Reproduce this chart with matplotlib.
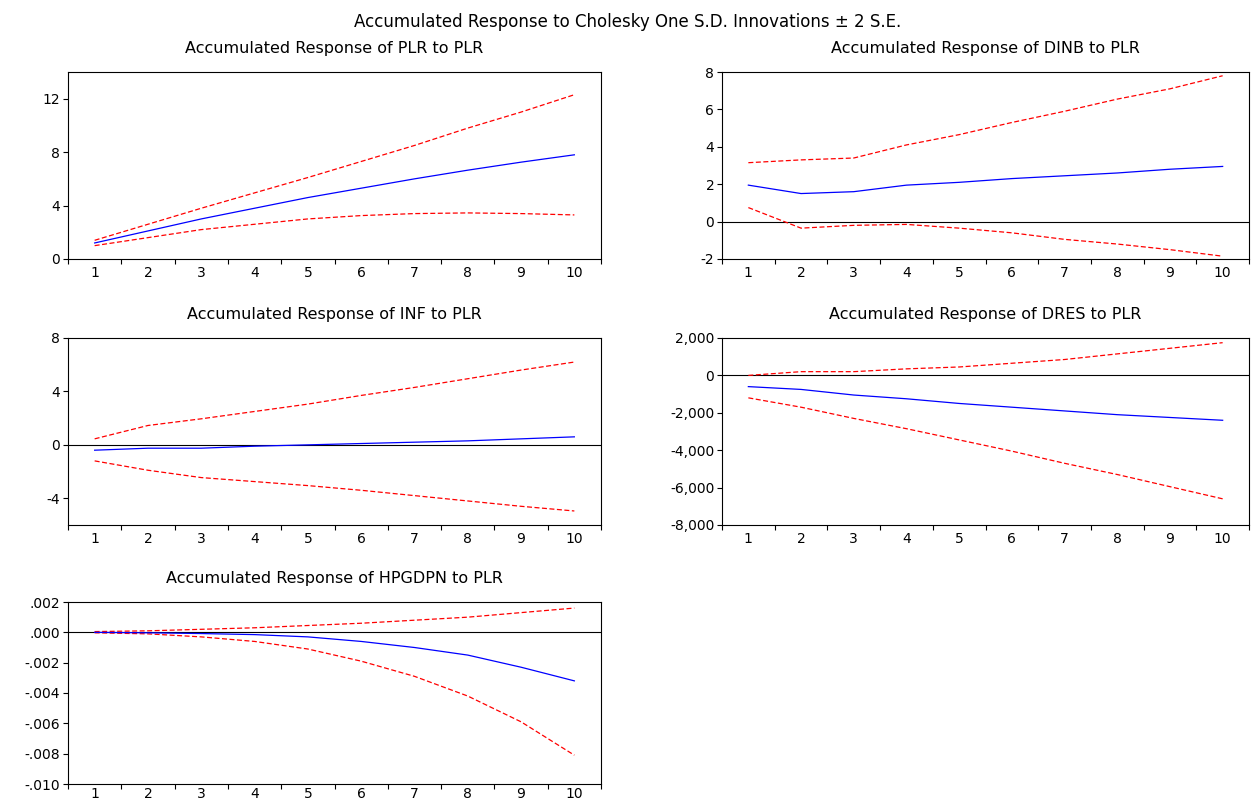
import matplotlib
matplotlib.use("Agg")
import matplotlib.pyplot as plt
from matplotlib.ticker import FuncFormatter, FixedLocator
import numpy as np

plt.rcParams['font.family'] = ['DejaVu Sans']

periods = [1, 2, 3, 4, 5, 6, 7, 8, 9, 10]

main_title = "Accumulated Response to Cholesky One S.D. Innovations \u00b1 2 S.E."
titles = ["Accumulated Response of PLR to PLR",
          "Accumulated Response of DINB to PLR",
          "Accumulated Response of INF to PLR",
          "Accumulated Response of DRES to PLR",
          "Accumulated Response of HPGDPN to PLR"]

plr_resp = [1.2, 2.1, 3.0, 3.8, 4.6, 5.3, 6.0, 6.65, 7.25, 7.8]
plr_up = [1.4, 2.6, 3.8, 4.95, 6.1, 7.3, 8.5, 9.8, 11.0, 12.3]
plr_lo = [1.0, 1.6, 2.2, 2.6, 3.0, 3.25, 3.4, 3.45, 3.4, 3.3]

dinb_resp = [1.95, 1.5, 1.6, 1.95, 2.1, 2.3, 2.45, 2.6, 2.8, 2.95]
dinb_up = [3.15, 3.3, 3.4, 4.1, 4.65, 5.3, 5.9, 6.55, 7.1, 7.8]
dinb_lo = [0.75, -0.35, -0.2, -0.15, -0.35, -0.6, -0.95, -1.2, -1.5, -1.85]

inf_resp = [-0.4, -0.25, -0.25, -0.1, 0.0, 0.1, 0.2, 0.3, 0.45, 0.6]
inf_up = [0.45, 1.45, 1.95, 2.5, 3.05, 3.7, 4.3, 4.95, 5.6, 6.2]
inf_lo = [-1.2, -1.9, -2.45, -2.75, -3.05, -3.4, -3.8, -4.2, -4.6, -4.95]

dres_resp = [-600, -750, -1050, -1250, -1500, -1700, -1900, -2100, -2250, -2400]
dres_up = [0, 200, 200, 350, 450, 650, 850, 1150, 1450, 1750]
dres_lo = [-1200, -1700, -2300, -2850, -3450, -4050, -4700, -5300, -5950, -6600]

hp_resp = [0.0, -0.00003, -0.00008, -0.00015, -0.0003, -0.0006, -0.001, -0.0015, -0.0023, -0.0032]
hp_up = [0.00005, 0.0001, 0.0002, 0.0003, 0.00045, 0.0006, 0.0008, 0.001, 0.0013, 0.0016]
hp_lo = [-0.00003, -0.0001, -0.0003, -0.0006, -0.0011, -0.0019, -0.0029, -0.0042, -0.0059, -0.0081]

panels = [
    (plr_resp, plr_up, plr_lo, (0, 14), [0, 4, 8, 12], 'int', False),
    (dinb_resp, dinb_up, dinb_lo, (-2, 8), [-2, 0, 2, 4, 6, 8], 'int', True),
    (inf_resp, inf_up, inf_lo, (-6, 8), [-4, 0, 4, 8], 'int', True),
    (dres_resp, dres_up, dres_lo, (-8000, 2000), [-8000, -6000, -4000, -2000, 0, 2000], 'comma', True),
    (hp_resp, hp_up, hp_lo, (-0.010, 0.002), [-0.010, -0.008, -0.006, -0.004, -0.002, 0.0, 0.002], 'dec', True),
]

fig = plt.figure(figsize=(12.55, 8.06), dpi=100)
W, H = 1255, 806
boxes = [(68, 72, 601, 259), (722, 72, 1249, 259),
         (68, 338, 601, 525), (722, 338, 1249, 525),
         (68, 602, 601, 784)]
xpads = [5, 5, 5, 5, 2.5]

def fmt_int(v, p):
    return "%d" % round(v)

def fmt_comma(v, p):
    return "{:,}".format(int(round(v)))

def fmt_dec(v, p):
    s = "%.3f" % v
    if s.startswith("-0"):
        s = "-" + s[2:]
    elif s.startswith("0"):
        s = s[1:]
    if s == "-.000":
        s = ".000"
    return s

fmts = {'int': fmt_int, 'comma': fmt_comma, 'dec': fmt_dec}

for (resp, up, lo, ylim, yt, f, zline), (x0, y0, x1, y1), title, xp in zip(panels, boxes, titles, xpads):
    ax = fig.add_axes([x0 / W, 1 - y1 / H, (x1 - x0) / W, (y1 - y0) / H])
    if zline:
        ax.axhline(0, color='black', lw=0.8, zorder=1)
    ax.plot(periods, up, color='red', lw=0.9, ls=(0, (4, 2)), zorder=2)
    ax.plot(periods, lo, color='red', lw=0.9, ls=(0, (4, 2)), zorder=2)
    ax.plot(periods, resp, color='blue', lw=0.9, zorder=3)
    ax.set_xlim(0.5, 10.5)
    ax.set_ylim(*ylim)
    ax.set_yticks(yt)
    ax.yaxis.set_major_formatter(FuncFormatter(fmts[f]))
    ax.set_xticks(periods)
    ax.set_xticklabels([str(p) for p in periods])
    ax.xaxis.set_minor_locator(FixedLocator(np.arange(0.5, 11, 1.0)))
    ax.tick_params(axis='x', which='major', length=0, labelsize=10, pad=xp)
    ax.tick_params(axis='x', which='minor', length=3.5, width=0.8, direction='out')
    ax.tick_params(axis='y', which='major', length=3.5, width=0.8, direction='out', labelsize=10, pad=2)
    for s in ax.spines.values():
        s.set_linewidth(0.8)
    fig.text((x0 + x1) / 2 / W, 1 - (y0 - 24) / H, title,
             ha='center', va='center', fontsize=11.5)

fig.text(0.5, 1 - 22 / H, main_title, ha='center', va='center', fontsize=12)

fig.savefig("out.png", dpi=100)
